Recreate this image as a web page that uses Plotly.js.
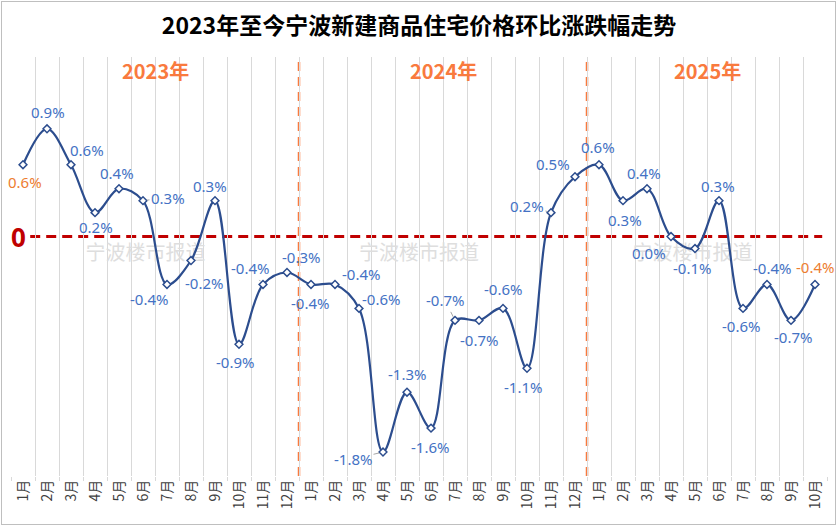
<!DOCTYPE html>
<html>
<head>
<meta charset="utf-8">
<script src="https://cdn.plot.ly/plotly-3.0.1.min.js"></script>
<style>
html,body{margin:0;padding:0;background:#fff;}
#wrap{position:relative;width:838px;height:528px;}
#chart{width:838px;height:528px;}
#frame{position:absolute;left:1px;top:1px;width:835px;height:524px;border:1px solid #BFBFBF;box-sizing:border-box;pointer-events:none;}
</style>
</head>
<body>
<div id="wrap"><div id="chart"></div><div id="frame"></div></div>
<script>
// ---- data ----
const months2023 = ['1月','2月','3月','4月','5月','6月','7月','8月','9月','10月','11月','12月'];
const months2024 = ['1月','2月','3月','4月','5月','6月','7月','8月','9月','10月','11月','12月'];
const months2025 = ['1月','2月','3月','4月','5月','6月','7月','8月','9月','10月'];
const values2023 = [0.6, 0.9, 0.6, 0.2, 0.4, 0.3, -0.4, -0.2, 0.3, -0.9, -0.4, -0.3];
const values2024 = [-0.4, -0.4, -0.6, -1.8, -1.3, -1.6, -0.7, -0.7, -0.6, -1.1, 0.2, 0.5];
const values2025 = [0.6, 0.3, 0.4, 0.0, -0.1, 0.3, -0.6, -0.4, -0.7, -0.4];
const yearLabels = ['2023年', '2024年', '2025年'];
const titleText = '2023年至今宁波新建商品住宅价格环比涨跌幅走势';
const watermark = '宁波楼市报道';

// ---- label placement (pixel offsets of each value label from its point) ----
const labelOffsets = [
  [2,17],[1,-17],[16,-15],[1,14],[-2,-16],[25,-3],[-18,15],[13,22],[-5,-15],[-4,18],[-13,-16],[14,-15],
  [-1,19],[26,-10],[22,-9],[-30,7],[0,-18],[-1,19],[-10,-20],[0,20],[0,-19],[-4,19],[-24,-7],[-22,-13],
  [-1,-18],[2,19],[-3,-16],[-22,16],[-3,19],[-1,-15],[-2,18],[5,-16],[2,17],[0,-17]
];
const leaderIdx = [5,7,10,15,18,22];

const monthLabels = months2023.concat(months2024, months2025);
const values = values2023.concat(values2024, values2025);
const xs = values.map((_, i) => i);
const n = values.length;

const blue = '#4472C4', orange = '#ED7D31', lineBlue = '#2C4D8E';
const divOrange = '#F97A3E', zeroRed = '#C00000';
const font = '"Noto Sans CJK SC", "Noto Sans", sans-serif';
const latin = '"Noto Sans", "Noto Sans CJK SC", sans-serif';

const annotations = [];
values.forEach((v, i) => {
  const off = labelOffsets[i];
  const col = (i === 0 || i === n - 1) ? orange : blue;
  const base = {
    x: xs[i], y: v, xref: 'x', yref: 'y',
    text: v.toFixed(1) + '%',
    font: {family: latin, size: 15, color: col},
  };
  if (leaderIdx.includes(i)) {
    annotations.push(Object.assign(base, {
      showarrow: true, ax: off[0], ay: off[1], axref: 'pixel', ayref: 'pixel',
      arrowhead: 0, arrowwidth: 1, arrowcolor: '#A6A6A6', standoff: 4
    }));
  } else {
    annotations.push(Object.assign(base, {
      showarrow: false, xshift: off[0], yshift: -off[1]
    }));
  }
});

// year labels
const yearCenters = [5.5, 17.5, 28.5];
yearLabels.forEach((t, k) => {
  annotations.push({
    x: yearCenters[k], y: 1.39, xref: 'x', yref: 'y', showarrow: false,
    text: '<b>' + t + '</b>', font: {family: font, size: 20, color: divOrange}
  });
});
// zero label
annotations.push({
  x: -0.2, y: 0, xref: 'x', yref: 'y', showarrow: false,
  text: '<b>0</b>', font: {family: latin, size: 26, color: zeroRed}
});

const traces = [
  {
    x: [5.1, 16.5, 27.9], y: [-0.15, -0.15, -0.15],
    mode: 'text', text: [watermark, watermark, watermark],
    textfont: {family: font, size: 20, color: '#DEDEDE'},
    hoverinfo: 'skip', showlegend: false
  },
  {
    x: xs, y: values, mode: 'lines+markers',
    line: {color: lineBlue, width: 2.2, shape: 'spline', smoothing: 1},
    marker: {symbol: 'diamond', size: 6, color: '#ffffff', line: {color: lineBlue, width: 1.5}},
    hoverinfo: 'skip', showlegend: false
  }
];

const layout = {
  width: 838, height: 528,
  margin: {l: 11, r: 11, t: 57, b: 52},
  paper_bgcolor: '#ffffff', plot_bgcolor: '#ffffff',
  title: {
    text: '<b>' + titleText + '</b>',
    font: {family: font, size: 23, color: '#000000'},
    x: 0.5, xanchor: 'center', y: 1 - 26/528, yref: 'container', yanchor: 'middle'
  },
  xaxis: {
    range: [-0.5, n - 0.5],
    tickmode: 'array', tickvals: xs, ticktext: monthLabels,
    tickangle: -90, ticks: '', showgrid: false, zeroline: false, showline: false,
    tickfont: {family: font, size: 14, color: '#404040'},
    minor: {tick0: 0.5, dtick: 1, showgrid: true, gridcolor: '#D9D9D9', gridwidth: 1,
            ticks: 'outside', ticklen: 4, tickcolor: '#D9D9D9'},
    fixedrange: true
  },
  yaxis: {
    range: [-2.0, 1.5], showticklabels: false, showgrid: false, zeroline: false,
    showline: false, ticks: '', fixedrange: true
  },
  shapes: [
    {type: 'line', xref: 'x', yref: 'y', x0: 0.3, x1: n - 0.7, y0: 0, y1: 0,
     line: {color: zeroRed, width: 3, dash: '10px,6px'}, layer: 'below'},
    {type: 'line', xref: 'x', yref: 'paper', x0: 11.5, x1: 11.5, y0: 0, y1: 1,
     line: {color: divOrange, width: 2.5, dash: '9px,6px'}, layer: 'below'},
    {type: 'line', xref: 'x', yref: 'paper', x0: 23.5, x1: 23.5, y0: 0, y1: 1,
     line: {color: divOrange, width: 2.5, dash: '9px,6px'}, layer: 'below'}
  ],
  annotations: annotations,
  showlegend: false
};

Plotly.newPlot('chart', traces, layout, {displayModeBar: false, staticPlot: true});
</script>
</body>
</html>
